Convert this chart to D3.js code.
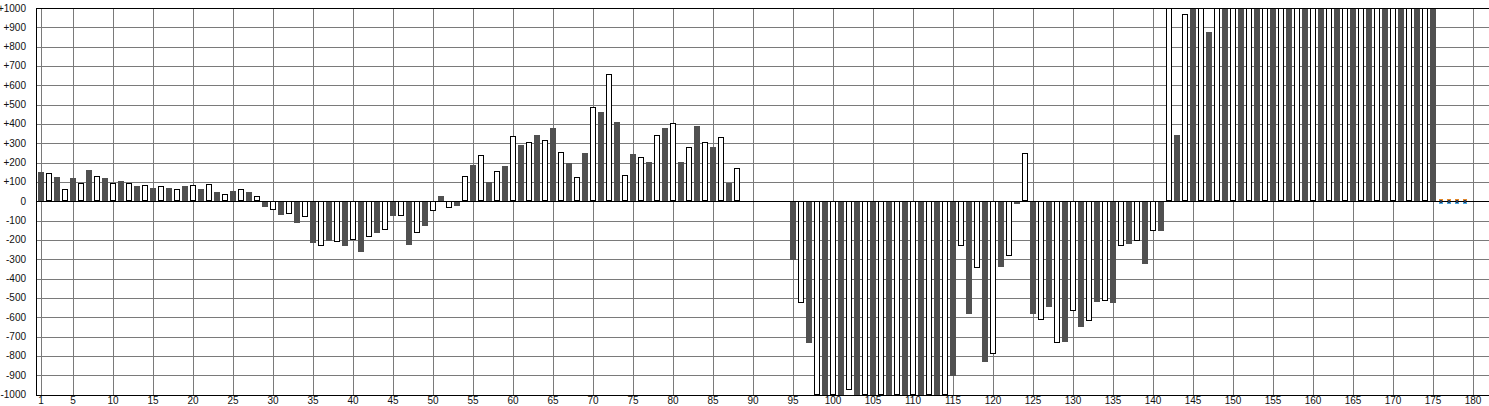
<!DOCTYPE html>
<html>
<head>
<meta charset="utf-8">
<script src="https://cdn.jsdelivr.net/npm/d3@7"></script>
<style>
  html, body { margin: 0; padding: 0; background: #fff; }
  svg { display: block; }
  text { font-family: "Liberation Sans", Arial, sans-serif; font-size: 10px; fill: #111; }
</style>
</head>
<body>
<svg id="chart" width="1489" height="406"></svg>
<script>
// ---- data ----
const categories = d3.range(1, 181);
const values = [
  149, 147, 128, 63, 118, 96, 160, 132, 118, 96,
  107, 95, 79, 84, 70, 77, 70, 63, 81, 84,
  65, 89, 49, 37, 54, 63, 49, 26, -29, -44,
  -71, -64, -111, -84, -216, -229, -205, -209, -229, -198,
  -262, -183, -164, -147, -74, -74, -226, -164, -126, -53,
  26, -33, -23, 130, 190, 240, 99, 157, 184, 339,
  289, 308, 341, 318, 377, 256, 198, 125, 252, 490,
  461, 659, 409, 136, 247, 230, 205, 344, 377, 407,
  205, 282, 388, 308, 283, 334, 96, 172, null, null,
  null, null, null, null, -303, -529, -733, -1000, -1000, -1000,
  -1000, -978, -1000, -1000, -1000, -1000, -1000, -1000, -1000, -1000,
  -1000, -1000, -1000, -1000, -902, -229, -581, -347, -831, -788,
  -340, -283, -14, 250, -583, -612, -547, -731, -728, -566,
  -650, -622, -521, -514, -526, -234, -221, -207, -324, -155,
  -152, 1000, 342, 969, 1000, 1000, 875, 1000, 1000, 1000,
  1000, 1000, 1000, 1000, 1000, 1000, 1000, 1000, 1000, 1000,
  1000, 1000, 1000, 1000, 1000, 1000, 1000, 1000, 1000, 1000,
  1000, 1000, 1000, 1000, 1000, 0, 0, 0, 0, null
];
const xTickLabels = [1, 5, 10, 15, 20, 25, 30, 35, 40, 45, 50, 55, 60, 65, 70, 75, 80, 85, 90,
  95, 100, 105, 110, 115, 120, 125, 130, 135, 140, 145, 150, 155, 160, 165, 170, 175, 180];
const yTickValues = [-1000, -900, -800, -700, -600, -500, -400, -300, -200, -100, 0,
  100, 200, 300, 400, 500, 600, 700, 800, 900, 1000];

// ---- layout ----
const W = 1489, H = 406;
const plotLeft = 36, plotTop = 8, plotBottom = 395, plotRight = W;
const svg = d3.select("#chart");

const x = d3.scaleLinear().domain([1, 180]).range([41, 1473]);
const y = d3.scaleLinear().domain([-1000, 1000]).range([394.5, 8]).clamp(true);

// grid
const grid = svg.append("g").attr("shape-rendering", "crispEdges");
grid.selectAll("line.h").data(yTickValues).join("line")
  .attr("x1", plotLeft).attr("x2", plotRight)
  .attr("y1", d => Math.round(y(d)) + 0.5).attr("y2", d => Math.round(y(d)) + 0.5)
  .attr("stroke", "#7a7a7a").attr("stroke-width", 1);
grid.selectAll("line.v").data(xTickLabels).join("line")
  .attr("x1", d => Math.round(x(d)) + 0.5).attr("x2", d => Math.round(x(d)) + 0.5)
  .attr("y1", plotTop).attr("y2", plotBottom)
  .attr("stroke", "#7a7a7a").attr("stroke-width", 1);

// bars
const data = categories.map((c, i) => ({ c, v: values[i] }));
const barsG = svg.append("g").attr("shape-rendering", "crispEdges");
const y0 = Math.round(y(0));
data.filter(d => d.v !== null && d.v !== 0).forEach(d => {
  const cx = Math.round(x(d.c));
  const yv = Math.round(y(d.v));
  const y1 = Math.min(yv, y0), y2 = Math.max(yv, y0);
  if (d.c % 2 === 1) {
    barsG.append("rect")
      .attr("x", cx - 3).attr("width", 6)
      .attr("y", y1).attr("height", y2 - y1)
      .attr("fill", "#505050");
  } else {
    barsG.append("rect")
      .attr("x", cx - 2.5).attr("width", 5)
      .attr("y", y1 + 0.5).attr("height", Math.max(0, y2 - y1 - 1))
      .attr("fill", "#fff").attr("stroke", "#000").attr("stroke-width", 1);
  }
});

// axes lines
const axes = svg.append("g").attr("shape-rendering", "crispEdges");
axes.append("line").attr("x1", plotLeft + 0.5).attr("x2", plotLeft + 0.5).attr("y1", plotTop).attr("y2", plotBottom + 1)
  .attr("stroke", "#000").attr("stroke-width", 1.5);
axes.append("line").attr("x1", plotLeft).attr("x2", plotRight).attr("y1", plotTop + 0.5).attr("y2", plotTop + 0.5)
  .attr("stroke", "#000").attr("stroke-width", 1.5);
axes.append("line").attr("x1", plotLeft).attr("x2", plotRight).attr("y1", plotBottom + 0.5).attr("y2", plotBottom + 0.5)
  .attr("stroke", "#000").attr("stroke-width", 1.5);
axes.append("line").attr("x1", plotLeft).attr("x2", plotRight).attr("y1", y0 + 0.5).attr("y2", y0 + 0.5)
  .attr("stroke", "#000").attr("stroke-width", 1.5);

// zero-value markers
const mk = svg.append("g").attr("shape-rendering", "crispEdges");
data.filter(d => d.v === 0).forEach(d => {
  const cx = Math.round(x(d.c));
  mk.append("rect").attr("x", cx - 2).attr("y", y0 - 2).attr("width", 4).attr("height", 2).attr("fill", "#e0862a");
  mk.append("rect").attr("x", cx - 2).attr("y", y0 + 1).attr("width", 4).attr("height", 2).attr("fill", "#4aa6e0");
  mk.append("rect").attr("x", cx - 1).attr("y", y0 - 1).attr("width", 2).attr("height", 3).attr("fill", "#2b3a55");
});

// y labels
const fmt = v => v > 0 ? "+" + v : String(v);
svg.append("g").selectAll("text").data(yTickValues).join("text")
  .attr("x", 26).attr("y", d => y(d)).attr("dy", "0.35em")
  .attr("text-anchor", "end").text(fmt);

// x labels
svg.append("g").selectAll("text").data(xTickLabels).join("text")
  .attr("x", d => x(d)).attr("y", 404)
  .attr("text-anchor", "middle").text(d => d);
</script>
</body>
</html>
